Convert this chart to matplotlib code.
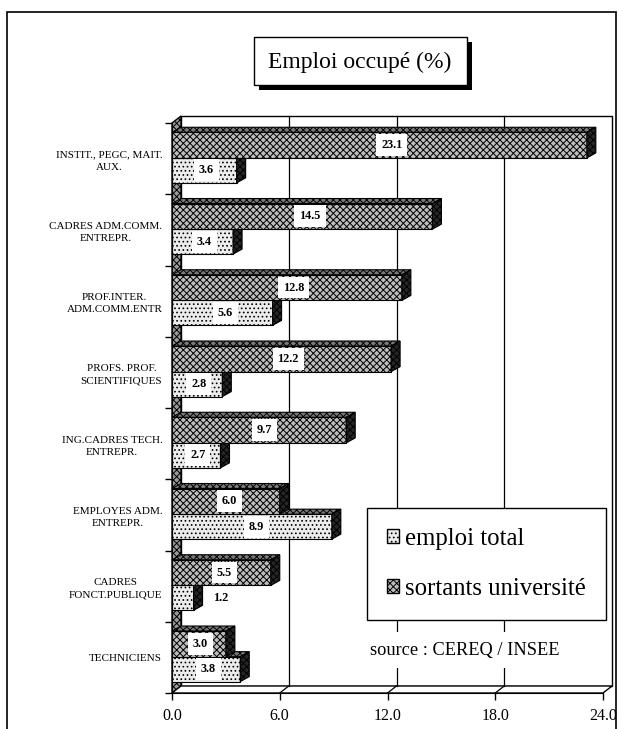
import numpy as np
import matplotlib
matplotlib.use("Agg")
import matplotlib.pyplot as plt
from matplotlib.patches import Polygon, Rectangle, Patch

# -------------------- Data --------------------
categories = [
    "INSTIT., PEGC, MAIT.\nAUX.",
    "CADRES ADM.COMM.\nENTREPR.",
    "PROF.INTER.\nADM.COMM.ENTR",
    "PROFS. PROF.\nSCIENTIFIQUES",
    "ING.CADRES TECH.\nENTREPR.",
    "EMPLOYES ADM.\nENTREPR.",
    "CADRES\nFONCT.PUBLIQUE",
    "TECHNICIENS",
]
sortants = [23.1, 14.5, 12.8, 12.2, 9.7, 6.0, 5.5, 3.0]
emploi = [3.6, 3.4, 5.6, 2.8, 2.7, 8.9, 1.2, 3.8]
xticks = [0, 6, 12, 18, 24]

plt.rcParams["font.family"] = ["Liberation Serif", "DejaVu Serif"]
plt.rcParams["hatch.linewidth"] = 0.7

W, H = 623, 729
fig = plt.figure(figsize=(W / 100, H / 100), dpi=100)

# front plane of the pseudo-3D box (pixels)
X0, X1, Y0, Y1 = 172, 603, 123, 693
ax = fig.add_axes([X0 / W, 1 - Y1 / H, (X1 - X0) / W, (Y1 - Y0) / H])
ax.set_xlim(0, 24)
ax.set_ylim(len(categories), 0)

px_x = (X1 - X0) / 24.0
px_y = (Y1 - Y0) / len(categories)
WDX, WDY = 9 / px_x, 7 / px_y      # wall depth
BDX, BDY = 9 / px_x, 5 / px_y      # bar depth
n = len(categories)

# walls
ax.add_patch(Rectangle((WDX, -WDY), 24, n, facecolor="white", edgecolor="black",
                       lw=1.0, zorder=0.5, clip_on=False))
ax.add_patch(Polygon([(0, 0), (WDX, -WDY), (WDX, n - WDY), (0, n)], closed=True,
                     facecolor="#9a9a9a", edgecolor="black", hatch="xxxxx",
                     lw=1.0, zorder=0.6, clip_on=False))
ax.add_patch(Polygon([(0, n), (WDX, n - WDY), (24 + WDX, n - WDY), (24, n)], closed=True,
                     facecolor="white", edgecolor="black", lw=1.0, zorder=0.6,
                     clip_on=False))
for xv in xticks[1:-1]:
    ax.plot([xv + WDX, xv + WDX], [-WDY, n - WDY], color="black", lw=0.9,
            zorder=0.7, clip_on=False)
    ax.plot([xv, xv + WDX], [n, n - WDY], color="black", lw=0.9, zorder=0.7,
            clip_on=False)


def bar3d(y0, h, v, front_fc, front_hatch):
    ax.barh(y0, v, height=h, left=0, align="edge", color=front_fc,
            edgecolor="black", hatch=front_hatch, lw=0.8, zorder=2)
    top = [(0, y0), (v, y0), (v + BDX, y0 - BDY), (BDX, y0 - BDY)]
    side = [(v, y0), (v + BDX, y0 - BDY), (v + BDX, y0 + h - BDY), (v, y0 + h)]
    ax.add_patch(Polygon(top, closed=True, facecolor="#7a7a7a", edgecolor="black",
                         hatch="xxxxx", lw=0.8, zorder=2, clip_on=False))
    ax.add_patch(Polygon(side, closed=True, facecolor="#262626", edgecolor="black",
                         hatch="xxxxx", lw=0.8, zorder=2, clip_on=False))


for i in range(n):
    bar3d(i + 0.49, 0.35, emploi[i], "#ececec", "....")
    bar3d(i + 0.13, 0.36, sortants[i], "#bdbdbd", "xxxxx")

# value labels
lab_box = dict(boxstyle="square,pad=0.4", facecolor="white", edgecolor="none")
for i in range(n):
    for y, v in ((i + 0.31, sortants[i]), (i + 0.665, emploi[i])):
        if v < 2:
            ax.text(v + 1.5, y, f"{v:.1f}", ha="center", va="center", fontsize=8.8,
                    fontweight="bold", zorder=5)
        else:
            ax.text(v * 0.53, y, f"{v:.1f}", ha="center", va="center", fontsize=8.8,
                    fontweight="bold", bbox=lab_box, zorder=5)

# axes, ticks
for s in ("top", "right"):
    ax.spines[s].set_visible(False)
ax.spines["left"].set_zorder(3)
ax.spines["bottom"].set_zorder(3)
ax.set_xticks(xticks)
ax.set_xticklabels([f"{v:.1f}" for v in xticks], fontsize=11.5)
ax.tick_params(axis="x", direction="out", length=5, width=1, pad=6)
ax.set_yticks(range(n + 1))
ax.set_yticklabels([])
ax.tick_params(axis="y", which="major", direction="out", length=5, width=1)
ax.set_yticks(np.arange(n) + 0.5, minor=True)
ax.set_yticklabels(categories, minor=True, fontsize=8.0, linespacing=1.45)
ax.tick_params(axis="y", which="minor", length=0, pad=7)
for t in ax.get_yticklabels(minor=True):
    t.set_multialignment("center")
ax.set_facecolor("none")

# legend
handles = [
    Patch(facecolor="#ececec", edgecolor="black", hatch="....", label="emploi total"),
    Patch(facecolor="#bdbdbd", edgecolor="black", hatch="xxxxx", label="sortants université"),
]
leg = fig.legend(handles=handles, loc="upper left",
                 bbox_to_anchor=(367 / W, 1 - 508 / H), fontsize=17.8,
                 frameon=True, fancybox=False, edgecolor="black", framealpha=1,
                 handlelength=0.5, handleheight=0.5, handletextpad=0.25,
                 labelspacing=1.15, borderpad=0.8, borderaxespad=0)
leg.get_frame().set_linewidth(1.0)
leg.set_zorder(6)

fig.text(370 / W, 1 - 650 / H, "source : CEREQ / INSEE", fontsize=13.2,
         ha="left", va="center",
         bbox=dict(boxstyle="square,pad=0.5", facecolor="white", edgecolor="none"))

# title box with shadow
fig.add_artist(Rectangle((259 / W, 1 - 90 / H), 213 / W, 48 / H,
                         transform=fig.transFigure, facecolor="black",
                         edgecolor="none"))
fig.add_artist(Rectangle((254 / W, 1 - 85 / H), 213 / W, 48 / H,
                         transform=fig.transFigure, facecolor="white",
                         edgecolor="black", lw=1.0))
fig.text(360 / W, 1 - 62 / H, "Emploi occupé (%)", fontsize=17,
         ha="center", va="center")

# outer frame
fig.add_artist(Rectangle((7 / W, -0.05), 609 / W, 1.05 - 12 / H,
                         transform=fig.transFigure, facecolor="none",
                         edgecolor="black", lw=1.2))

fig.savefig("out.png", dpi=100)
